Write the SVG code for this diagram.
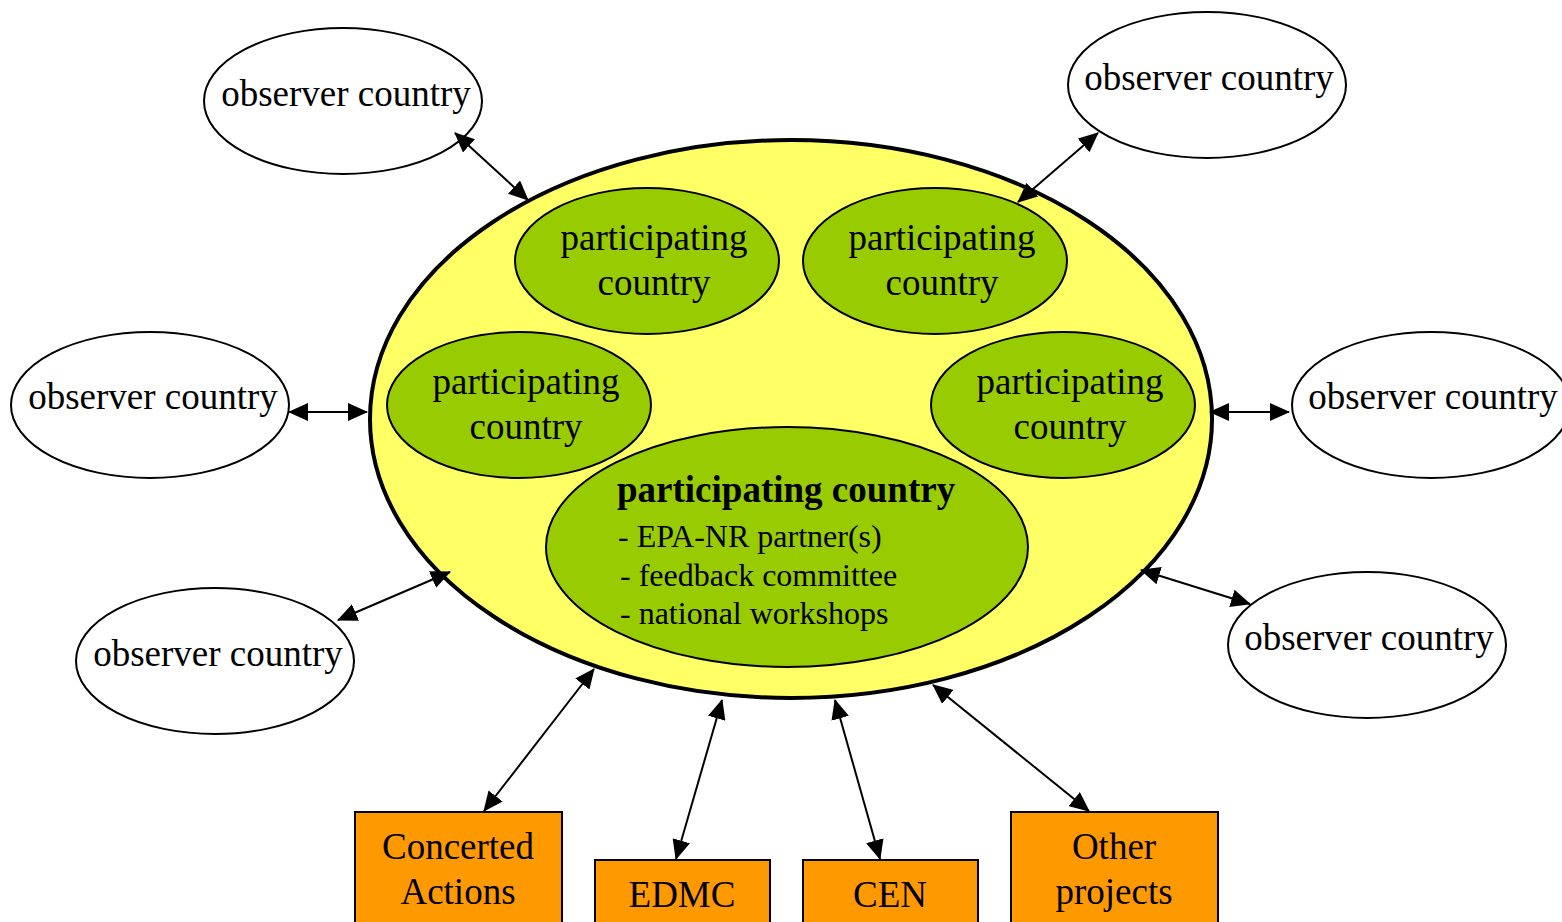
<svg xmlns="http://www.w3.org/2000/svg" width="1562" height="922" viewBox="0 0 1562 922">
<defs>
<marker id="ah" markerUnits="userSpaceOnUse" markerWidth="20" markerHeight="18" refX="19" refY="9" orient="auto-start-reverse" viewBox="0 0 20 18">
<path d="M0,0 L20,9 L0,18 z" fill="#000"/>
</marker>
<style>
text{font-family:"Liberation Serif","Times New Roman",serif;fill:#000;}
.t{font-size:37px;text-anchor:middle;}
.b{font-size:37px;font-weight:bold;}
.s{font-size:32px;}
.obs{fill:#fff;stroke:#000;stroke-width:2;}
.part{fill:#99CC00;stroke:#000;stroke-width:2;}
.box{fill:#FF9900;stroke:#000;stroke-width:2;}
.c{stroke:#000;stroke-width:2;fill:none;marker-start:url(#ah);marker-end:url(#ah);}
</style>
</defs>
<rect width="1562" height="922" fill="#fff"/>

<g id="network">
<ellipse cx="791" cy="419" rx="421" ry="279" fill="#FFFF66" stroke="#000" stroke-width="4"/>
</g>

<g id="part-tl"><ellipse class="part" cx="647" cy="261" rx="132" ry="73"/>
<text class="t" x="654" y="250">participating</text><text class="t" x="654" y="295">country</text></g>
<g id="part-tr"><ellipse class="part" cx="935" cy="261" rx="132" ry="73"/>
<text class="t" x="942" y="250">participating</text><text class="t" x="942" y="295">country</text></g>
<g id="part-ml"><ellipse class="part" cx="519" cy="405" rx="132" ry="73"/>
<text class="t" x="526" y="394">participating</text><text class="t" x="526" y="439">country</text></g>
<g id="part-mr"><ellipse class="part" cx="1063" cy="405" rx="132" ry="73"/>
<text class="t" x="1070" y="394">participating</text><text class="t" x="1070" y="439">country</text></g>
<g id="part-main"><ellipse class="part" cx="787" cy="547" rx="241" ry="120"/>
<text class="b" x="617" y="502">participating country</text>
<text class="s" x="618" y="547">- EPA-NR partner(s)</text>
<text class="s" x="620" y="586">- feedback committee</text>
<text class="s" x="620" y="624">- national workshops</text></g>

<g id="obs-tl"><ellipse class="obs" cx="343" cy="101" rx="139" ry="73"/><text class="t" x="346" y="106">observer country</text></g>
<g id="obs-tr"><ellipse class="obs" cx="1207" cy="85" rx="139" ry="73"/><text class="t" x="1209" y="90">observer country</text></g>
<g id="obs-ml"><ellipse class="obs" cx="150" cy="405" rx="139" ry="73"/><text class="t" x="153" y="409">observer country</text></g>
<g id="obs-mr"><ellipse class="obs" cx="1431" cy="405" rx="139" ry="73"/><text class="t" x="1433" y="409">observer country</text></g>
<g id="obs-bl"><ellipse class="obs" cx="215" cy="661" rx="139" ry="73"/><text class="t" x="218" y="666">observer country</text></g>
<g id="obs-br"><ellipse class="obs" cx="1367" cy="645" rx="139" ry="73"/><text class="t" x="1369" y="650">observer country</text></g>

<g id="box-ca"><rect class="box" x="355" y="812" width="207" height="120"/>
<text class="t" x="458" y="859">Concerted</text><text class="t" x="458" y="904">Actions</text></g>
<g id="box-edmc"><rect class="box" x="595" y="860" width="175" height="72"/>
<text class="t" x="682" y="907">EDMC</text></g>
<g id="box-cen"><rect class="box" x="803" y="860" width="175" height="72"/>
<text class="t" x="890" y="907">CEN</text></g>
<g id="box-op"><rect class="box" x="1011" y="812" width="207" height="120"/>
<text class="t" x="1114" y="859">Other</text><text class="t" x="1114" y="904">projects</text></g>

<g id="connectors">
<line class="c" x1="455" y1="133" x2="528" y2="200"/>
<line class="c" x1="289" y1="412" x2="367" y2="412"/>
<line class="c" x1="338" y1="620" x2="450" y2="572"/>
<line class="c" x1="1098" y1="133" x2="1018" y2="202"/>
<line class="c" x1="1210" y1="412" x2="1289" y2="412"/>
<line class="c" x1="1141" y1="570" x2="1250" y2="604"/>
<line class="c" x1="594" y1="669" x2="484" y2="811"/>
<line class="c" x1="722" y1="700" x2="676" y2="859"/>
<line class="c" x1="835" y1="700" x2="880" y2="859"/>
<line class="c" x1="933" y1="685" x2="1089" y2="811"/>
</g>
</svg>
